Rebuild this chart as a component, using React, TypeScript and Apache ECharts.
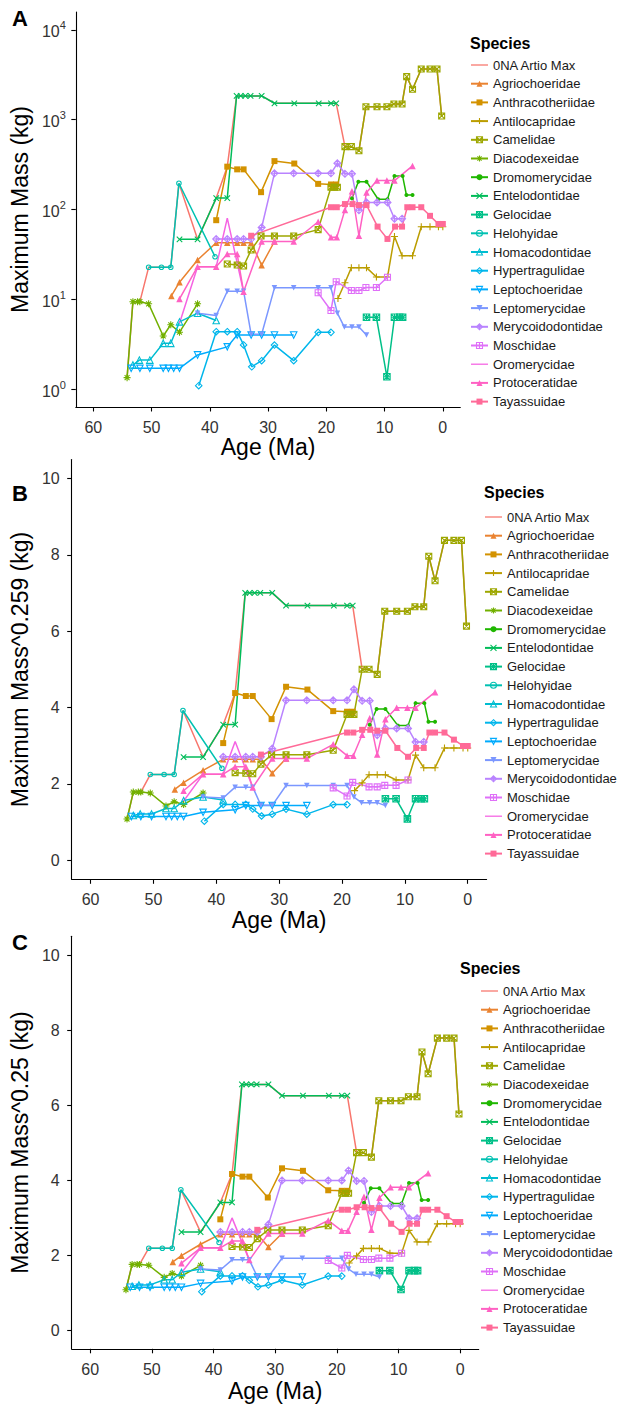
import React, { useEffect, useRef } from "react";
import * as echarts from "echarts";

// ---------------- DATA (age in Ma, maximum mass in kg) ----------------
const SPECIES = [
  "0NA Artio Max", "Agriochoeridae", "Anthracotheriidae", "Antilocapridae", "Camelidae",
  "Diacodexeidae", "Dromomerycidae", "Entelodontidae", "Gelocidae", "Helohyidae",
  "Homacodontidae", "Hypertragulidae", "Leptochoeridae", "Leptomerycidae",
  "Merycoidodontidae", "Moschidae", "Oromerycidae", "Protoceratidae", "Tayassuidae",
];

const COLORS = [
  "#F8766D", "#EA8331", "#D39200", "#BB9D00", "#9DA700", "#72B000", "#1FB700",
  "#00BC59", "#00C088", "#00C1B2", "#00BDD1", "#00B6EB", "#00ABFD", "#7B97FF",
  "#B983FF", "#DF70F8", "#F564E3", "#FF61C3", "#FF6A98",
];

const artioMax = [[54.2,1.34],[53.2,9.4],[52.0,9.4],[50.5,22.7],[48.3,22.7],[46.7,22.7],[45.3,196],[42.1,46.6],[38.9,134],[37.0,300],[35.4,1840],[34.7,1840],[33.9,1840],[33.0,1840],[31.1,1840],[28.9,1525],[25.5,1525],[21.3,1525],[19.2,1525],[18.3,1525],[16.8,501],[15.7,501],[14.4,452],[13.2,1397],[11.3,1397],[9.6,1397],[8.4,1497],[7.0,1497],[6.2,3020],[5.2,2184],[3.7,3675],[2.2,3675],[1.0,3675],[0.2,1101]];
const agriochoeridae = [[46.6,10.9],[45.2,15.5],[42.1,27.4],[38.9,42.7],[37.0,42.7],[35.3,42.7],[34.2,42.7],[32.9,42.7],[31.1,24],[28.9,44]];
const anthracotheriidae = [[38.9,76],[37.0,300],[35.3,280],[34.2,280],[31.2,156],[28.9,346],[25.5,325],[21.4,193],[19.2,190],[18.3,190]];
const antilocapridae = [[18.0,10.2],[16.8,15.3],[15.7,22.5],[14.4,22.5],[13.1,22.5],[11.4,17.7],[9.5,17.7],[8.3,50],[7.0,30.5],[5.2,30.5],[3.7,64.3],[2.2,64.3],[0.75,64.3],[0.0,64.3]];
const camelidae = [[37.0,24.7],[35.3,24.1],[34.2,23.5],[32.9,35.4],[31.2,50.7],[28.9,50.7],[25.6,50.7],[21.4,59.7],[19.2,177],[18.6,177],[18.1,177],[16.8,501],[15.7,501],[14.4,452],[13.2,1397],[11.3,1397],[9.6,1397],[8.4,1497],[7.0,1497],[6.2,3020],[5.2,2184],[3.7,3675],[2.2,3675],[1.0,3675],[0.2,1101]];
const diacodexeidae = [[54.2,1.34],[53.2,9.4],[52.4,9.4],[52.0,9.4],[50.5,8.9],[48.0,3.9],[46.7,5.2],[45.2,4.3],[42.1,8.9]];
const dromomerycidae = [[15.6,133],[14.5,204],[13.1,204],[11.1,130],[9.5,130],[8.3,236],[6.9,236],[6.25,145],[5.2,145]];
const entelodontidae = [[45.2,46.6],[42.1,46.6],[38.9,134],[37.0,134],[35.4,1840],[34.7,1840],[33.9,1840],[33.0,1840],[31.1,1840],[28.9,1525],[25.5,1525],[21.3,1525],[19.2,1525],[18.3,1525]];
const gelocidae = [[13.1,6.3],[11.4,6.3],[9.6,1.37],[8.3,6.3],[7.4,6.3],[6.9,6.3]];
const helohyidae = [[50.5,22.7],[48.3,22.7],[46.7,22.7],[45.3,196],[39.1,29.8]];
const homacodontidae = [[53.2,1.85],[52.1,2.1],[50.3,2.1],[48.0,3.23],[46.7,3.23],[45.2,5.6],[42.1,7.0],[38.9,5.8]];
const hypertragulidae = [[41.9,1.09],[38.9,4.35],[37.0,4.35],[35.3,4.35],[34.2,3.1],[32.8,1.77],[31.1,2.07],[28.9,3.09],[25.6,2.07],[21.4,4.28],[19.2,4.28]];
const leptochoeridae = [[53.5,1.7],[52.0,1.7],[50.3,1.7],[48.0,1.7],[47.1,1.7],[46.2,1.7],[45.2,1.7],[42.1,2.4],[37.0,2.95],[35.3,4.0],[32.9,4.0],[31.1,4.0],[28.9,4.0],[25.6,4.0]];
const leptomerycidae = [[42.1,7.0],[38.9,6.6],[37.0,12.3],[35.3,12.3],[34.2,12.3],[32.9,4.07],[31.1,4.07],[28.9,13.4],[25.6,13.4],[21.4,13.4],[19.2,13.4],[18.1,7.0],[16.9,4.9],[15.6,4.9],[14.4,4.9],[13.1,4.0]];
const merycoidodontidae = [[38.9,46.9],[37.0,46.9],[35.3,46.9],[34.2,46.9],[32.9,46.9],[31.1,63],[28.9,253],[25.6,253],[21.4,253],[19.2,253],[18.1,327],[16.8,250],[15.6,250],[14.4,98],[13.1,120],[11.3,120],[9.5,120],[8.3,79],[7.0,79]];
const moschidae = [[21.4,11.8],[19.2,7.5],[18.3,15.7],[15.7,12.5],[14.4,12.5],[13.2,13.5],[11.4,13.5],[9.5,17.6]];
const oromerycidae = [[45.2,5.4],[42.1,23],[38.9,23],[37.0,80],[34.2,12.1]];
const protoceratidae = [[45.2,10.1],[42.1,23.1],[38.9,23.1],[37.0,31.9],[35.3,31.9],[34.2,12.1],[31.1,44],[28.9,44],[25.6,44],[21.4,73],[19.2,49],[18.2,49],[16.8,99],[15.6,160],[14.4,51],[13.1,155],[11.3,210],[9.6,210],[8.3,210],[5.2,306]];
const tayassuidae = [[32.9,51],[19.2,106],[18.2,106],[16.8,115],[15.5,115],[14.4,112],[13.1,112],[11.2,64.5],[9.5,47],[8.2,64.5],[7.0,64.5],[6.1,106],[5.2,106],[3.7,106],[2.2,85],[0.75,69],[0.0,69]];

const SERIES_DATA = [
  artioMax, agriochoeridae, anthracotheriidae, antilocapridae, camelidae, diacodexeidae,
  dromomerycidae, entelodontidae, gelocidae, helohyidae, homacodontidae, hypertragulidae,
  leptochoeridae, leptomerycidae, merycoidodontidae, moschidae, oromerycidae, protoceratidae,
  tayassuidae,
];

const AGE_TICKS = [0, 10, 20, 30, 40, 50, 60];
const LOG_TICKS = [0, 1, 2, 3, 4];
const POW_TICKS = [0, 2, 4, 6, 8, 10];

// ---------------- SYMBOLS ----------------
const P_PLUS = "path://M5,0L5,10M0,5L10,5";
const P_CROSS = "path://M0,0L10,10M0,10L10,0";
const P_AST = "path://M5,0L5,10M0,5L10,5M1.5,1.5L8.5,8.5M1.5,8.5L8.5,1.5";
const P_BOXX = "path://M0,0L10,0L10,10L0,10ZM0,0L10,10M0,10L10,0";
const P_BOXPLUS = "path://M0,0L10,0L10,10L0,10ZM5,0L5,10M0,5L10,5";
const P_BOXSTAR = "path://M0,0L10,0L10,10L0,10ZM0,0L10,10M0,10L10,0M5,0L5,10M0,5L10,5";
const P_DIAPLUS = "path://M5,0L10,5L5,10L0,5ZM5,0L5,10M0,5L10,5";
const P_TRI = "path://M5,0L10,9L0,9Z";
const P_DTRI = "path://M0,0L10,0L5,9Z";
const P_DIA = "path://M5,0L10,5L5,10L0,5Z";
const P_CIRC = "path://M10,5A5,5,0,1,1,0,5A5,5,0,1,1,10,5Z";
const P_LINEKEY = "path://M0,0L20,0L20,1.5L0,1.5Z";

// [symbol, size, filled]
const SHAPES: [string, number, boolean][] = [
  ["none", 0, true],
  ["triangle", 6.5, true],
  ["rect", 6, true],
  [P_PLUS, 7, false],
  [P_BOXX, 6, false],
  [P_AST, 7, false],
  ["circle", 4, true],
  [P_CROSS, 5.5, false],
  [P_BOXSTAR, 6.5, false],
  [P_CIRC, 4.5, false],
  [P_TRI, 6.5, false],
  [P_DIA, 6.5, false],
  [P_DTRI, 6.5, false],
  ["path://M0,0L10,0L5,9Z", 5.5, true],
  [P_DIAPLUS, 7, false],
  [P_BOXPLUS, 6, false],
  ["none", 0, true],
  ["triangle", 6.5, true],
  ["rect", 6, true],
];

const FONT = "Liberation Sans, Arial, Helvetica, sans-serif";

type Panel = {
  left: number; top: number; width: number; height: number;
  ymin: number; ymax: number; yticks: number[]; yname: string; ynameGap: number;
  xnameGap: number; transform: (m: number) => number; log: boolean;
  legendLeft: number; legendTop: number; legendGap: number; letterY: number; titleY: number; titleX: number;
  ylabelMargin: number; xlabelMargin: number;
};

const PANELS: Panel[] = [
  { left: 73.1, top: 12, width: 387.2, height: 395, ymin: -0.2, ymax: 4.2, yticks: LOG_TICKS,
    yname: "Maximum Mass (kg)", ynameGap: 33, xnameGap: 25, transform: (m) => Math.log10(m), log: true,
    legendLeft: 470, legendTop: 58.5, legendGap: 5.7, letterY: 18, titleY: 44, titleX: 470, ylabelMargin: 10, xlabelMargin: 12 },
  { left: 69.3, top: 459.6, width: 417.3, height: 419.7, ymin: -0.5, ymax: 10.5, yticks: POW_TICKS,
    yname: "Maximum Mass^0.259 (kg)", ynameGap: 29, xnameGap: 29, transform: (m) => Math.pow(m, 0.259), log: false,
    legendLeft: 484, legendTop: 510.5, legendGap: 5.7, letterY: 493, titleY: 493, titleX: 484, ylabelMargin: 12, xlabelMargin: 12.5 },
  { left: 67.7, top: 936.3, width: 411, height: 412.5, ymin: -0.5, ymax: 10.5, yticks: POW_TICKS,
    yname: "Maximum Mass^0.25 (kg)", ynameGap: 28, xnameGap: 31, transform: (m) => Math.pow(m, 0.25), log: false,
    legendLeft: 480, legendTop: 984.5, legendGap: 5.7, letterY: 942, titleY: 969, titleX: 460, ylabelMargin: 12, xlabelMargin: 12.5 },
];

function legendItem(name: string, k: number) {
  const [sym, , filled] = SHAPES[k];
  const c = COLORS[k];
  if (sym === "none") return { name, icon: P_LINEKEY, itemStyle: { color: c, borderWidth: 0 } };
  if (filled) return { name, itemStyle: { color: c, borderWidth: 0 } };
  return { name, itemStyle: { color: "rgba(0,0,0,0)", borderColor: c, borderWidth: 1.1 } };
}

function buildOption() {
  const grid: any[] = [];
  const xAxis: any[] = [];
  const yAxis: any[] = [];
  const series: any[] = [];
  const legend: any[] = [];
  const graphic: any[] = [];
  const axisLine = { show: true, onZero: false, lineStyle: { color: "#000", width: 1.1 } };
  const axisTick = { show: true, length: 4.5, lineStyle: { color: "#000", width: 1.1 } };

  PANELS.forEach((p, i) => {
    grid.push({ left: p.left, top: p.top, width: p.width, height: p.height, containLabel: false });
    xAxis.push({
      type: "value", gridIndex: i, min: -3, max: 63, inverse: true,
      name: "Age (Ma)", nameLocation: "middle", nameGap: p.xnameGap,
      nameTextStyle: { fontSize: 23, color: "#000", fontFamily: FONT },
      axisLine, axisTick: { ...axisTick, customValues: AGE_TICKS },
      axisLabel: { customValues: AGE_TICKS, fontSize: 16, color: "#333", margin: p.xlabelMargin, fontFamily: FONT },
      splitLine: { show: false },
    });
    yAxis.push({
      type: "value", gridIndex: i, min: p.ymin, max: p.ymax,
      name: p.yname, nameLocation: "middle", nameGap: p.ynameGap, nameRotate: 90,
      nameTextStyle: { fontSize: 23, color: "#000", fontFamily: FONT },
      axisLine, axisTick: { ...axisTick, customValues: p.yticks },
      axisLabel: p.log
        ? {
            customValues: p.yticks, margin: p.ylabelMargin, fontFamily: FONT,
            formatter: (v: number) => `{b|10}{s|${Math.round(v)}}`,
            rich: {
              b: { fontSize: 16, color: "#333", fontFamily: FONT, lineHeight: 20, verticalAlign: "bottom" },
              s: { fontSize: 11, color: "#333", fontFamily: FONT, lineHeight: 20, verticalAlign: "top" },
            },
          }
        : { customValues: p.yticks, fontSize: 16, color: "#333", margin: p.ylabelMargin, fontFamily: FONT },
      splitLine: { show: false },
    });

    SPECIES.forEach((name, k) => {
      const [sym, size, filled] = SHAPES[k];
      const c = COLORS[k];
      series.push({
        type: "line", name, xAxisIndex: i, yAxisIndex: i,
        data: SERIES_DATA[k].map(([age, m]) => [age, p.transform(m)]),
        symbol: sym, symbolSize: size, showSymbol: sym !== "none", showAllSymbol: true,
        lineStyle: { color: c, width: 1.5 },
        itemStyle: filled
          ? { color: c, borderWidth: 0 }
          : { color: "rgba(0,0,0,0)", borderColor: c, borderWidth: 1.1 },
        emphasis: { disabled: true }, silent: true, z: 2,
      });
    });

    legend.push({
      orient: "vertical", left: p.legendLeft, top: p.legendTop, selectedMode: false, padding: 0,
      itemWidth: 17, itemHeight: 7.5, itemGap: p.legendGap,
      textStyle: { fontSize: 13, color: "#1a1a1a", fontFamily: FONT, lineHeight: 13 },
      data: SPECIES.map((n, k) => legendItem(n, k)),
    });

    graphic.push({
      type: "text", left: 12, top: p.letterY - 11,
      style: { text: ["A", "B", "C"][i], font: `bold 22px ${FONT}`, fill: "#000" },
    });
    graphic.push({
      type: "text", left: p.titleX, top: p.titleY - 9,
      style: { text: "Species", font: `bold 16px ${FONT}`, fill: "#000" },
    });
  });

  return {
    animation: false,
    backgroundColor: "#fff",
    textStyle: { fontFamily: FONT },
    grid, xAxis, yAxis, series, legend, graphic,
  };
}

export default function App() {
  const ref = useRef<HTMLDivElement>(null);
  useEffect(() => {
    document.body.style.margin = "0";
    if (!ref.current) return;
    const chart = echarts.init(ref.current, null, { renderer: "svg" });
    chart.setOption(buildOption() as any);
    return () => chart.dispose();
  }, []);
  return <div ref={ref} style={{ width: 637, height: 1405 }} />;
}
